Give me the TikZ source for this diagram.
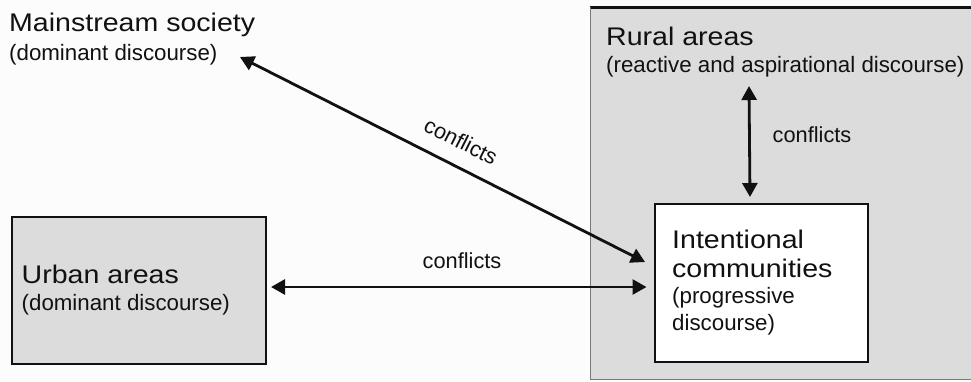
\documentclass[tikz,border=0pt]{standalone}
\usepackage{fontspec}
\setmainfont{Liberation Sans}
\newfontfamily\ttlfont[FakeStretch=1.12]{Liberation Sans}
\usetikzlibrary{arrows.meta,calc}
\definecolor{bg}{RGB}{252,252,252}
\definecolor{boxgray}{RGB}{220,220,220}
\definecolor{edgegray}{RGB}{120,120,120}
\definecolor{ink}{RGB}{17,17,17}
\begin{document}
\begin{tikzpicture}[x=1pt,y=-1pt,
  ttl/.style={anchor=base west,inner sep=0pt,text=ink,font=\ttlfont\fontsize{25.5}{28}\selectfont},
  sub/.style={anchor=base west,inner sep=0pt,text=ink,font=\fontsize{22.3}{27}\selectfont},
  lbl/.style={inner sep=0pt,text=ink,font=\fontsize{21.8}{24}\selectfont},
  box/.style={draw=ink,line width=2pt,inner sep=0pt,anchor=north west},
  arr/.style={{Triangle[length=14pt,width=15pt]}-{Triangle[length=14pt,width=15pt]},line width=2.8pt,draw=ink}]
\fill[bg] (0,0) rectangle (971,381);
\useasboundingbox (0,0) rectangle (971,381);
% rural region (runs off the right edge)
\node[fill=boxgray,anchor=north west,minimum width=400pt,minimum height=372pt,inner sep=0pt] (rural) at (590,7) {};
\draw[ink,line width=3pt] (rural.north west) -- (rural.north east);
\draw[edgegray,line width=1pt] (rural.north west) -- (rural.south west) -- (rural.south east);
% boxes
\node[box,fill=boxgray,minimum width=254pt,minimum height=147pt] (urban) at (11,216) {};
\node[box,fill=white,minimum width=213pt,minimum height=158pt] (intent) at (654,203) {};
% texts
\node[ttl] (mainT) at (9,31.7) {Mainstream society};
\node[sub] (mainS) at (9,60) {(dominant discourse)};
\node[ttl] (ruralT) at (606,45) {Rural areas};
\node[sub] (ruralS) at (606,72) {(reactive and aspirational discourse)};
\node[ttl] (urbanT) at (21.5,283) {Urban areas};
\node[sub] (urbanS) at (21.5,310) {(dominant discourse)};
\node[ttl] (intT1) at (672,248) {Intentional};
\node[ttl] (intT2) at (672,277) {communities};
\node[sub] (intS1) at (672,303) {(progressive};
\node[sub] (intS2) at (672,330) {discourse)};
% connector ends
\coordinate (hL) at ($(urban.east)+(4,-3.5)$);
\coordinate (hR) at ($(intent.west)+(-7.5,4)$);
\coordinate (vT) at (749,86);
\coordinate (vB) at ($(intent.north)+(-11.5,-6)$);
\coordinate (dT) at (240,57);
\coordinate (dB) at (645,262);
% connectors
\draw[arr] (hL) -- (hR);
\draw[arr] (vT) -- (vB);
\draw[arr] (dT) -- (dB);
% labels
\node[lbl] (lh) at (462,261) {conflicts};
\node[lbl] (lv) at (812,135) {conflicts};
\node[lbl,rotate=-26.84] (ld) at (461,141) {conflicts};
\end{tikzpicture}
\end{document}
